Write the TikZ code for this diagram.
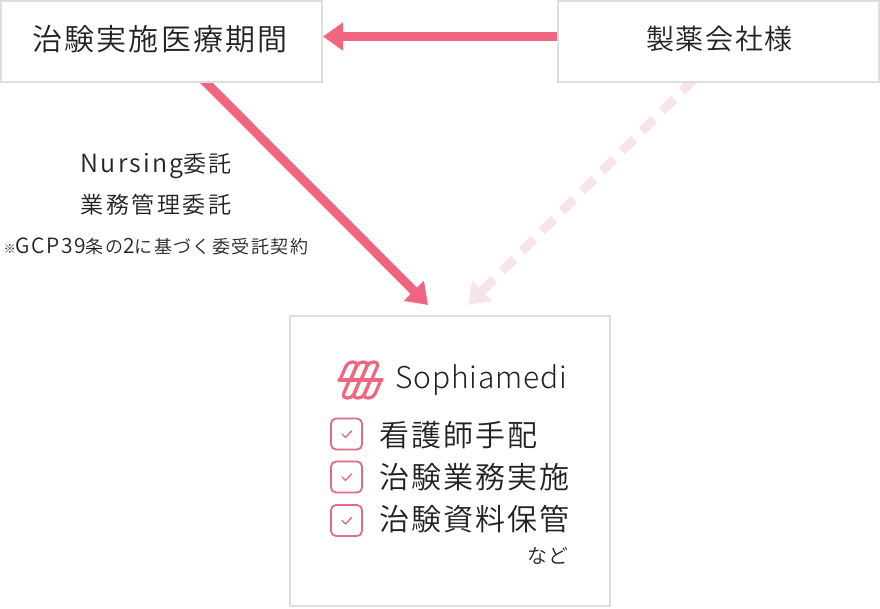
\documentclass[tikz,border=0pt]{standalone}
\usepackage{fontspec}
\setmainfont{Noto Sans CJK JP DemiLight}
\newfontfamily\lightfont{Noto Sans CJK JP Light}
\usetikzlibrary{arrows.meta}
\definecolor{arrowpink}{HTML}{F0657F}
\definecolor{palepink}{HTML}{F7E4E7}
\definecolor{boxgray}{HTML}{DEDEDE}
\definecolor{ink}{HTML}{222222}
\definecolor{checkpink}{HTML}{E36C85}
\newcommand{\px}[1]{\fontsize{#1pt}{#1pt}\selectfont}
\tikzset{
  x=1pt,y=-1pt,
  entity/.style={draw=boxgray,line width=2pt,fill=white,inner sep=0pt},
  title/.style={text=ink,inner sep=0pt,anchor=center},
  bigflow/.style={draw=arrowpink,line width=9pt,-{Triangle[length=20pt,width=27pt,fill=arrowpink]}},
  paleflow/.style={draw=palepink,line width=9pt,dash pattern=on 17pt off 11.3pt,-{Triangle[length=20pt,width=27pt,fill=palepink]}},
  checkbox/.style={draw=checkpink,line width=1.8pt,rounded corners=5pt,minimum width=31pt,minimum height=31pt,inner sep=0pt},
  tick/.style={draw=checkpink,line width=1.4pt,line cap=round,line join=round},
  logo/.style={draw=arrowpink,line width=3.2pt,line cap=round,line join=round}
}
\begin{document}
\begin{tikzpicture}
\useasboundingbox (0,0) rectangle (880,608);
\fill[white] (0,0) rectangle (880,608);
\coordinate (a1s) at (557,36.5);
\coordinate (a1e) at (323,36.5);
\coordinate (a2s) at (196.5,73);
\coordinate (a2e) at (428,305);
\coordinate (a3s) at (694,79);
\coordinate (a3e) at (468,305);
\draw[bigflow] (a1s) -- (a1e);
\draw[bigflow] (a2s) -- (a2e);
\draw[paleflow] (a3s) -- (a3e);
\node[entity,minimum width=321pt,minimum height=81pt] (hosp) at (161.5,41.5) {};
\node[entity,minimum width=321pt,minimum height=81pt] (maker) at (718,41.5) {};
\node[entity,minimum width=320pt,minimum height=290pt] (soph) at (450,460.5) {};
\node[title] (hosptext) at (160,39.5) {\px{30}\addfontfeature{LetterSpace=7}治験実施医療期間};
\node[title] (makertext) at (719.5,38.5) {\px{28}\addfontfeature{LetterSpace=6}製薬会社様};
\node[title] (n1) at (156,166) {\px{23}{\px{25}\addfontfeature{LetterSpace=9}Nursing}\addfontfeature{LetterSpace=6}委託};
\node[title] (n2) at (156,205) {\px{23}\addfontfeature{LetterSpace=11}業務管理委託};
\node[title] (n3) at (156,246) {\px{18}{\px{12}※}{\px{21}\addfontfeature{LetterSpace=7}GCP39}\addfontfeature{LetterSpace=8}条の{\px{21}2}に基づく委受託契約};
% logo
\begin{scope}[logo]
\foreach \dx in {0,10.5,21}{
  \draw (340+\dx,380) -- (346+\dx,366) .. controls (348.5+\dx,360.5) and (358.5+\dx,360.5) .. (356.5+\dx,366) -- (350.5+\dx,380);
  \draw (381-\dx,380) -- (375-\dx,394) .. controls (372.5-\dx,399.5) and (362.5-\dx,399.5) .. (364.5-\dx,394) -- (370.5-\dx,380);
}
\draw (339,380) -- (382,380);
\end{scope}
\node[title,anchor=west] (brand) at (395,380) {\px{30}\lightfont\addfontfeature{LetterSpace=3}Sophiamedi};
\node[checkbox] (c1) at (346.5,434) {};
\node[checkbox] (c2) at (346.5,477) {};
\node[checkbox] (c3) at (346.5,520.5) {};
\foreach \c in {c1,c2,c3}{
  \draw[tick] ([shift={(-4.5,0)}]\c.center) -- ([shift={(-1,3.5)}]\c.center) -- ([shift={(5,-3)}]\c.center);
}
\node[title,anchor=west] (t1) at (379,435) {\px{30}\addfontfeature{LetterSpace=7}看護師手配};
\node[title,anchor=west] (t2) at (379,477) {\px{30}\addfontfeature{LetterSpace=7}治験業務実施};
\node[title,anchor=west] (t3) at (379,519) {\px{30}\addfontfeature{LetterSpace=7}治験資料保管};
\node[title] (nado) at (548,556) {\px{20}\addfontfeature{LetterSpace=6}など};
\end{tikzpicture}
\end{document}
